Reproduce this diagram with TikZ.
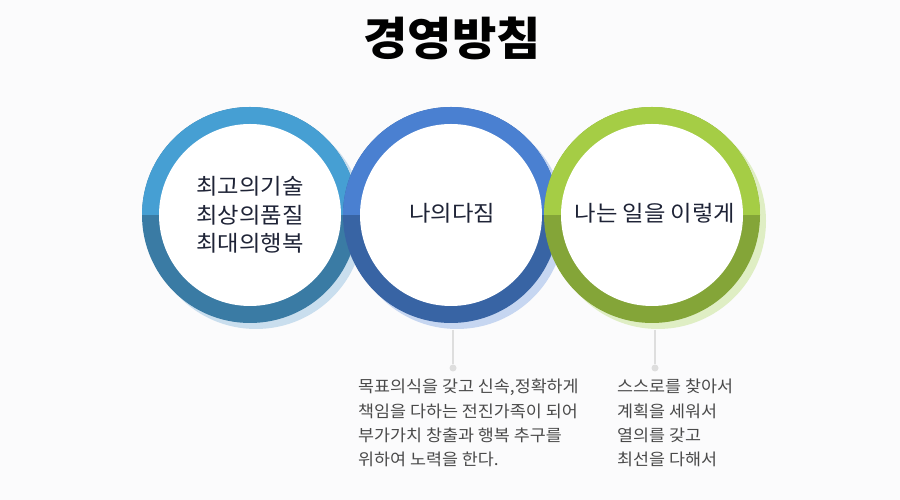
\documentclass[tikz,border=0pt]{standalone}
\usepackage{fontspec}
\setmainfont{Noto Sans CJK KR}[FakeStretch=1.06]
\usetikzlibrary{positioning}

\definecolor{bgcol}{HTML}{FBFBFC}
\definecolor{ringAtop}{HTML}{469FD3}
\definecolor{ringAbot}{HTML}{3A7BA4}
\definecolor{ringAsh}{HTML}{C9DEEE}
\definecolor{ringBtop}{HTML}{4A80D1}
\definecolor{ringBbot}{HTML}{3864A4}
\definecolor{ringBsh}{HTML}{C6D6F1}
\definecolor{ringCtop}{HTML}{A5CD45}
\definecolor{ringCbot}{HTML}{84A538}
\definecolor{ringCsh}{HTML}{DFEEC4}
\definecolor{inktext}{HTML}{1E2336}
\definecolor{notetext}{HTML}{4A4A4A}
\definecolor{leadcol}{HTML}{DEDEDE}

\tikzset{
  title/.style={font=\fontsize{45.5}{50}\selectfont\bfseries, black},
  ringtext/.style={font=\fontsize{22}{28.5}\selectfont, inktext, align=center},
  bodytext/.style={font=\fontsize{16.4}{24.3}\selectfont, notetext, align=left, inner sep=0pt},
  leader/.style={leadcol, line width=1.5pt},
  dot/.style={circle, fill=leadcol, minimum size=7pt, inner sep=0pt}
}

\begin{document}
\begin{tikzpicture}[x=1pt,y=1pt]
\fill[bgcol] (0,0) rectangle (900,500);
\useasboundingbox (0,0) rectangle (900,500);

\node[title] (title) at (452,462) {경영방침};

% three rings, later ones over earlier ones
\foreach \cx/\lt/\dk/\sh in {250/ringAtop/ringAbot/ringAsh, 451/ringBtop/ringBbot/ringBsh, 652/ringCtop/ringCbot/ringCsh}{
  \fill[\sh] (\cx+6,279) circle[radius=108];
  \fill[\dk] (\cx,285) circle[radius=108];
  \fill[\lt] (\cx+108,285) arc[start angle=0,end angle=180,radius=108] -- cycle;
  \fill[white] (\cx,285) circle[radius=91];
}

\node[ringtext] (goal1) at (250,285) {최고의기술\\최상의품질\\최대의행복};
\node[ringtext] (goal2) at (452,287) {나의다짐};
\node[ringtext] (goal3) at (655,287) {나는 일을 이렇게};

\coordinate (top2) at (453,170);
\node[dot] (dot2) at (453,132) {};
\draw[leader] (top2) -- (dot2);
\coordinate (top3) at (655,170);
\node[dot] (dot3) at (655,132) {};
\draw[leader] (top3) -- (dot3);

\node[bodytext, anchor=north west] (note2) at (358,121) {목표의식을 갖고 신속,정확하게\\책임을 다하는 전진가족이 되어\\부가가치 창출과 행복 추구를\\위하여 노력을 한다.};
\node[bodytext, anchor=north west] (note3) at (617,121) {스스로를 찾아서\\계획을 세워서\\열의를 갖고\\최선을 다해서};
\end{tikzpicture}
\end{document}
